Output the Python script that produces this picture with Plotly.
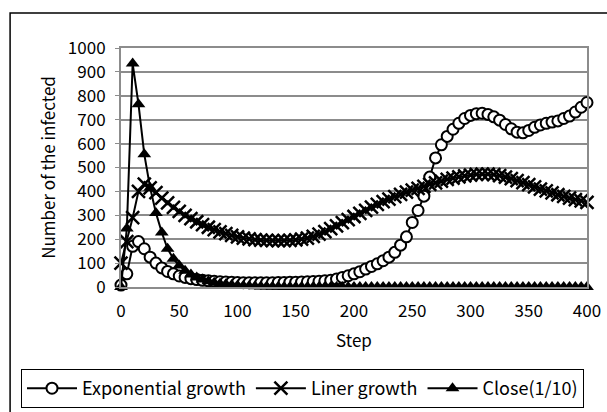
import plotly.graph_objects as go

steps = list(range(0, 401, 5))

exponential_growth = [
    8, 55, 170, 190, 160, 125, 100, 80, 65, 55,
    46, 40, 35, 31, 28, 26, 24, 22, 21, 20,
    19, 18, 18, 18, 18, 18, 18, 19, 19, 20,
    20, 21, 22, 23, 24, 26, 28, 33, 40, 47,
    55, 64, 75, 86, 97, 110, 125, 145, 175, 210,
    270, 320, 380, 460, 540, 595, 630, 660, 685, 705,
    718, 725, 727, 722, 712, 698, 680, 662, 648, 645,
    655, 668, 678, 685, 690, 695, 705, 715, 732, 752,
    772,
]

liner_growth = [
    100, 190, 290, 400, 430, 415, 395, 372, 352, 333,
    316, 300, 286, 273, 261, 250, 240, 231, 223, 216,
    210, 205, 201, 198, 196, 195, 194, 194, 194, 195,
    197, 200, 205, 212, 221, 232, 244, 256, 269, 282,
    295, 308, 321, 334, 346, 357, 368, 378, 388, 397,
    405, 413, 421, 429, 436, 443, 450, 456, 461, 465,
    468, 471, 472, 472, 470, 466, 460, 453, 445, 437,
    428, 419, 410, 402, 394, 386, 379, 372, 366, 360,
    354,
]

close_1_10 = [
    0, 245, 935, 765, 555, 415, 310, 228, 160, 118,
    90, 68, 52, 40, 31, 24, 18, 14, 11, 8,
    6, 5, 4, 3, 2, 2, 1, 1, 0, 0,
    0, 0, 0, 0, 0, 0, 0, 0, 0, 0,
    0, 0, 0, 0, 0, 0, 0, 0, 0, 0,
    0, 0, 0, 0, 0, 0, 0, 0, 0, 0,
    0, 0, 0, 0, 0, 0, 0, 0, 0, 0,
    0, 0, 0, 0, 0, 0, 0, 0, 0, 0,
    0,
]

y_ticks = list(range(0, 1001, 100))
x_ticks = list(range(0, 401, 50))

FONT = "Noto Sans CJK JP"
FS = 17

fig = go.Figure()
fig.add_trace(go.Scatter(
    x=steps, y=exponential_growth, name="Exponential growth", mode="lines+markers",
    line=dict(color="black", width=2),
    marker=dict(symbol="circle", size=11, color="white", line=dict(color="black", width=2)),
    cliponaxis=False,
))
fig.add_trace(go.Scatter(
    x=steps, y=liner_growth, name="Liner growth", mode="lines+markers",
    line=dict(color="black", width=2),
    marker=dict(symbol="x-thin", size=13, color="black", line=dict(color="black", width=2.5)),
    cliponaxis=False,
))
fig.add_trace(go.Scatter(
    x=steps, y=close_1_10, name="Close(1/10)", mode="lines+markers",
    line=dict(color="black", width=2),
    marker=dict(symbol="triangle-up", size=12, color="black"),
    cliponaxis=False,
))

# outer chart-area border
fig.add_shape(type="rect", xref="paper", yref="paper",
              x0=-0.238, x1=1.2, y0=-0.7, y1=1.146,
              line=dict(color="black", width=1.5), fillcolor="rgba(0,0,0,0)", layer="below")

fig.update_layout(
    width=607, height=412,
    margin=dict(l=121, r=20, t=48, b=125, autoexpand=False),
    paper_bgcolor="white", plot_bgcolor="white",
    font=dict(family=FONT, size=FS, color="black"),
    showlegend=True,
    legend=dict(
        orientation="h",
        x=(21 - 121) / 466, xanchor="left", y=(287 - 369) / 239, yanchor="top",
        bordercolor="black", borderwidth=1, bgcolor="white",
        font=dict(family=FONT, size=18, color="black"),
        itemwidth=50, tracegroupgap=0,
    ),
    xaxis=dict(
        range=[0, 400], tickvals=x_ticks, ticktext=[str(v) for v in x_ticks],
        showgrid=False, zeroline=False, showline=True, linecolor="#8c8c8c", linewidth=2,
        mirror=True, ticks="", tickfont=dict(size=FS), ticklabelstandoff=8,
        title=dict(text="Step", font=dict(size=FS), standoff=14),
    ),
    yaxis=dict(
        range=[0, 1000], tickvals=y_ticks, ticktext=[str(v) for v in y_ticks],
        showgrid=True, gridcolor="#8c8c8c", gridwidth=1.5,
        zeroline=False, showline=True, linecolor="#8c8c8c", linewidth=2, mirror=True,
        ticks="outside", ticklen=4, tickcolor="#8c8c8c", tickfont=dict(size=FS),
        ticklabelstandoff=6,
        title=dict(text="Number of the infected", font=dict(size=FS), standoff=8),
    ),
)

fig.write_html("out.html")
